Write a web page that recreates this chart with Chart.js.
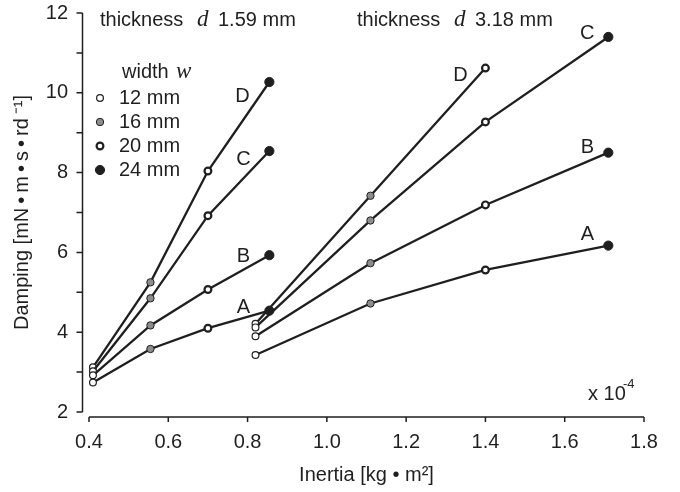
<!DOCTYPE html>
<html><head><meta charset="utf-8">
<script src="https://cdn.jsdelivr.net/npm/chart.js@4.4.0/dist/chart.umd.min.js"></script>
<style>html,body{margin:0;padding:0;background:#fff}#wrap{width:680px;height:492px;position:relative}</style>
</head><body><div id="wrap"><canvas id="c"></canvas></div>
<script>
// ---- data ----
const widthLabels = ['12 mm', '16 mm', '20 mm', '24 mm'];
const inertiaThin = [0.41, 0.555, 0.70, 0.855];
const inertiaThick = [0.82, 1.11, 1.40, 1.71];
const thinA = [2.74, 3.58, 4.10, 4.54];
const thinB = [2.92, 4.17, 5.07, 5.93];
const thinC = [3.02, 4.85, 6.92, 8.54];
const thinD = [3.12, 5.25, 8.04, 10.27];
const thickA = [3.43, 4.72, 5.56, 6.17];
const thickB = [3.90, 5.73, 7.19, 8.50];
const thickC = [4.12, 6.80, 9.27, 11.40];
const thickD = [4.21, 7.42, 10.62];
const xTickLabels = ['0.4', '0.6', '0.8', '1.0', '1.2', '1.4', '1.6', '1.8'];
const yTickLabels = ['2', '', '4', '', '6', '', '8', '', '10', '', '12'];
const thicknessLabels = ['1.59 mm', '3.18 mm'];

// ---- styles ----
const INK = '#1f1f1f';
const FONT = "'Liberation Sans', Arial, sans-serif";
const SERIF = "'Liberation Serif', 'DejaVu Serif', serif";
const pointFill = ['#ffffff', '#8c8c8c', '#ffffff', '#1f1f1f'];
const pointBorderW = [1.2, 1, 2.2, 1];
const pointRad = [3.4, 3.7, 3.4, 4.6];

const series = [
  { xs: inertiaThin, ys: thinA, letter: 'A', off: [-26, -3] },
  { xs: inertiaThin, ys: thinB, letter: 'B', off: [-26, 1] },
  { xs: inertiaThin, ys: thinC, letter: 'C', off: [-26, 8] },
  { xs: inertiaThin, ys: thinD, letter: 'D', off: [-27, 14] },
  { xs: inertiaThick, ys: thickA, letter: 'A', off: [-21, -11] },
  { xs: inertiaThick, ys: thickB, letter: 'B', off: [-21, -5] },
  { xs: inertiaThick, ys: thickC, letter: 'C', off: [-21, -3] },
  { xs: inertiaThick, ys: thickD, letter: 'D', off: [-25, 7] }
];

const datasets = series.map(s => ({
  data: s.ys.map((y, i) => ({ x: s.xs[i], y })),
  showLine: true,
  borderColor: INK,
  borderWidth: 2.3,
  pointBackgroundColor: s.ys.map((_, i) => pointFill[i]),
  pointBorderColor: INK,
  pointBorderWidth: s.ys.map((_, i) => pointBorderW[i]),
  pointRadius: s.ys.map((_, i) => pointRad[i]),
  pointHoverRadius: s.ys.map((_, i) => pointRad[i]),
  clip: false,
  letter: s.letter,
  labelOffset: s.off
}));

const annot = {
  id: 'annot',
  afterDraw(chart) {
    const ctx = chart.ctx;
    const xs = chart.scales.x, ys = chart.scales.y;
    ctx.save();
    ctx.strokeStyle = INK;
    ctx.fillStyle = INK;
    ctx.lineWidth = 1.5;
    // y axis (offset to the left)
    const ax = xs.left - 6.5;
    ctx.beginPath();
    ctx.moveTo(ax, ys.getPixelForValue(12));
    ctx.lineTo(ax, ys.getPixelForValue(2));
    ys.ticks.forEach(t => {
      const p = ys.getPixelForValue(t.value);
      ctx.moveTo(ax, p); ctx.lineTo(ax - 6, p);
    });
    ctx.stroke();
    // x axis (offset below)
    const ay = ys.bottom + 5;
    ctx.beginPath();
    ctx.moveTo(xs.getPixelForValue(0.4), ay);
    ctx.lineTo(xs.getPixelForValue(1.8), ay);
    xs.ticks.forEach(t => {
      const p = xs.getPixelForValue(t.value);
      ctx.moveTo(p, ay); ctx.lineTo(p, ay + 5);
    });
    ctx.stroke();

    // series letters
    ctx.font = '20px ' + FONT;
    ctx.textAlign = 'center';
    ctx.textBaseline = 'middle';
    chart.data.datasets.forEach((ds, di) => {
      const meta = chart.getDatasetMeta(di);
      const last = meta.data[meta.data.length - 1];
      ctx.fillText(ds.letter, last.x + ds.labelOffset[0], last.y + ds.labelOffset[1]);
    });

    // group titles
    ctx.textAlign = 'left';
    ctx.textBaseline = 'alphabetic';
    [100, 357].forEach((x0, gi) => {
      ctx.font = '20px ' + FONT;
      ctx.fillText('thickness', x0, 26);
      ctx.font = 'italic 23px ' + SERIF;
      ctx.fillText('d', x0 + 97, 26);
      ctx.font = '20px ' + FONT;
      ctx.fillText(thicknessLabels[gi], x0 + 118, 26);
    });

    // width legend
    ctx.font = '20px ' + FONT;
    ctx.fillText('width', 122, 78);
    ctx.font = 'italic 23px ' + SERIF;
    ctx.fillText('w', 176, 78);
    widthLabels.forEach((lab, i) => {
      const cy = 98 + i * 24;
      ctx.beginPath();
      ctx.arc(100, cy, pointRad[i], 0, Math.PI * 2);
      ctx.fillStyle = pointFill[i];
      ctx.fill();
      ctx.lineWidth = pointBorderW[i];
      ctx.strokeStyle = INK;
      ctx.stroke();
      ctx.fillStyle = INK;
      ctx.font = '20px ' + FONT;
      ctx.textBaseline = 'middle';
      ctx.fillText(lab, 119, cy);
    });

    // x 10^-4
    ctx.textBaseline = 'alphabetic';
    ctx.font = '20px ' + FONT;
    ctx.fillText('x 10', 588, 400);
    ctx.font = '13px ' + FONT;
    ctx.fillText('-4', 623, 388);
    ctx.restore();
  }
};

new Chart(document.getElementById('c'), {
  type: 'scatter',
  data: { datasets },
  options: {
    responsive: true,
    maintainAspectRatio: false,
    animation: false,
    events: [],
    layout: { padding: { top: 13, right: 36, bottom: 0, left: 0 } },
    plugins: { legend: { display: false }, tooltip: { enabled: false } },
    scales: {
      x: {
        type: 'linear', min: 0.4, max: 1.8,
        afterFit: s => { s.height = 80; s.paddingLeft = 0; s.paddingRight = 0; },
        afterBuildTicks: s => { s.ticks = xTickLabels.map(v => ({ value: parseFloat(v) })); },
        ticks: {
          callback: (v, i) => xTickLabels[i],
          font: { family: FONT, size: 20 }, color: INK, padding: 18, maxRotation: 0, autoSkip: false
        },
        grid: { display: false, drawTicks: false },
        border: { display: false },
        title: { display: true, text: 'Inertia [kg • m²]', font: { family: FONT, size: 20 }, color: INK, padding: { top: 0, bottom: 5 } }
      },
      y: {
        type: 'linear', min: 2, max: 12,
        afterFit: s => { s.width = 89; s.paddingTop = 0; s.paddingBottom = 0; },
        ticks: {
          stepSize: 1,
          callback: (v, i) => yTickLabels[i],
          font: { family: FONT, size: 20 }, color: INK, padding: 21, autoSkip: false
        },
        grid: { display: false, drawTicks: false },
        border: { display: false },
        title: { display: true, text: 'Damping [mN\u2009•\u2009m\u2009•\u2009s\u2009•\u2009rd\u2009⁻¹]', font: { family: FONT, size: 20 }, color: INK, padding: { top: 10, bottom: 0 } }
      }
    }
  },
  plugins: [annot]
});
</script>
</body></html>
